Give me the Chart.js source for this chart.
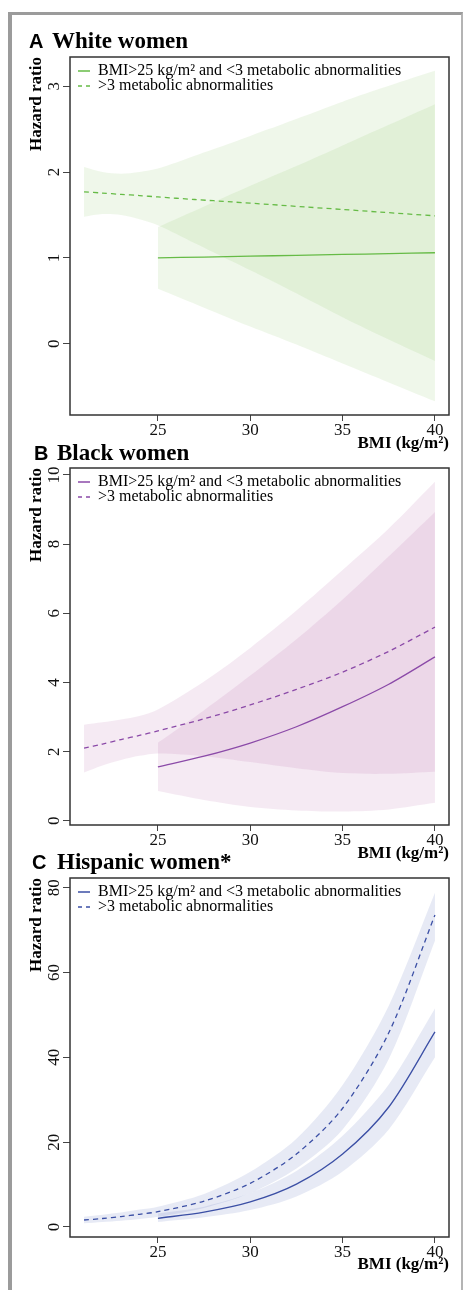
<!DOCTYPE html>
<html><head><meta charset="utf-8">
<script src="https://cdn.jsdelivr.net/npm/chart.js@4.4.1/dist/chart.umd.min.js"></script>
<style>
html,body{margin:0;padding:0;background:#fff;}
body{width:467px;height:1290px;position:relative;overflow:hidden;}
#frame{position:absolute;left:8px;top:12px;width:449px;height:1300px;border-top:3px solid #9b9b9b;border-left:4px solid #9b9b9b;border-right:2px solid #b4b4b4;}
.lt{position:absolute;font:bold 20px "Liberation Sans",Arial,sans-serif;line-height:20px;color:#000;white-space:nowrap;}
.hd{position:absolute;font:bold 23px "Liberation Serif","Times New Roman",serif;line-height:23px;color:#000;white-space:nowrap;}
canvas{position:absolute;left:0;}
</style></head>
<body>
<div id="frame"></div>
<canvas id="cA" width="467" height="405" style="top:50px"></canvas>
<canvas id="cB" width="467" height="405" style="top:460px"></canvas>
<canvas id="cC" width="467" height="406" style="top:870px"></canvas>
<div class="lt" style="left:29px;top:31px">A</div><div class="hd" style="left:52px;top:28.7px">White women</div>
<div class="lt" style="left:34px;top:443px">B</div><div class="hd" style="left:57px;top:440.7px">Black women</div>
<div class="lt" style="left:32px;top:852px">C</div><div class="hd" style="left:57px;top:849.7px">Hispanic women*</div>
<script>
// ---- shared labels / ticks ----
const legendLabels = ['BMI>25 kg/m\u00b2 and <3 metabolic abnormalities', '>3 metabolic abnormalities'];
const xTitle = 'BMI (kg/m\u00b2)';
const yTitle = 'Hazard ratio';
const bmiTicks = [25, 30, 35, 40];
const yTicksA = [0, 1, 2, 3];
const yTicksB = [0, 2, 4, 6, 8, 10];
const yTicksC = [0, 20, 40, 60, 80];

// BMI grid for the "<3 abnormalities" curves (start at 25)
const bmiSolid = [25, 27.5, 30, 32.5, 35, 37.5, 40];

// ---- A: White women ----
const bmiDashedA = [21, 22, 23, 24, 25, 27, 29, 31, 33, 35, 37, 40];
const hrSolidA   = [1.00, 1.01, 1.02, 1.03, 1.04, 1.05, 1.06];
const hiSolidA   = [1.36, 1.60, 1.84, 2.07, 2.31, 2.55, 2.79];
const loSolidA   = [0.64, 0.42, 0.20, -0.01, -0.23, -0.45, -0.67];
const hrDashedA  = [1.77, 1.755, 1.74, 1.726, 1.71, 1.68, 1.652, 1.623, 1.593, 1.564, 1.534, 1.49];
const hiDashedA  = [2.06, 2.00, 1.98, 2.00, 2.04, 2.19, 2.34, 2.50, 2.66, 2.82, 2.97, 3.18];
const loDashedA  = [1.48, 1.51, 1.50, 1.45, 1.38, 1.17, 0.96, 0.75, 0.53, 0.31, 0.10, -0.20];

// ---- B: Black women ----
const bmiDashedB = [21, 22, 23, 24, 25, 27.5, 30, 32.5, 35, 37.5, 40];
const hrSolidB   = [1.56, 1.87, 2.25, 2.72, 3.30, 3.95, 4.74];
const hiSolidB   = [2.26, 3.20, 4.20, 5.25, 6.40, 7.65, 8.93];
const loSolidB   = [0.86, 0.60, 0.40, 0.30, 0.27, 0.33, 0.52];
const hrDashedB  = [2.10, 2.22, 2.35, 2.47, 2.60, 2.95, 3.35, 3.80, 4.30, 4.90, 5.60];
const hiDashedB  = [2.78, 2.85, 2.93, 3.03, 3.22, 4.03, 5.00, 6.08, 7.25, 8.45, 9.80];
const loDashedB  = [1.40, 1.60, 1.76, 1.88, 1.95, 1.87, 1.70, 1.52, 1.38, 1.36, 1.42];

// ---- C: Hispanic women ----
const bmiDashedC = [21, 22, 23, 24, 25, 27.5, 30, 32.5, 35, 37.5, 40];
const hrSolidC   = [2.05, 3.5, 5.9, 10.1, 17.2, 28.3, 46.0];
const hiSolidC   = [3.2, 4.8, 8.0, 13.2, 21.5, 33.6, 51.5];
const loSolidC   = [1.2, 2.3, 4.0, 7.2, 13.1, 23.0, 40.0];
const hrDashedC  = [1.65, 2.0, 2.45, 3.0, 3.6, 6.1, 10.3, 17.2, 28.0, 45.8, 73.6];
const hiDashedC  = [2.4, 2.9, 3.4, 4.1, 4.8, 7.8, 13.0, 20.8, 33.5, 52.2, 78.8];
const loDashedC  = [0.9, 1.2, 1.5, 1.9, 2.4, 4.5, 8.0, 13.8, 23.0, 39.6, 67.5];

Chart.defaults.font.family = '"Liberation Serif","Times New Roman",serif';
Chart.defaults.color = '#000';

function pts(xs, ys) { return xs.map((x, i) => ({x: x, y: ys[i]})); }

const framePlugin = {
  id: 'frame',
  afterDraw(chart) {
    const ctx = chart.ctx, a = chart.chartArea;
    ctx.save();
    ctx.strokeStyle = '#333';
    ctx.lineWidth = 1.5;
    ctx.strokeRect(a.left, a.top, a.right - a.left, a.bottom - a.top);
    ctx.restore();
  }
};
const legendPlace = {
  id: 'legendPlace',
  beforeDraw(chart) {
    const lg = chart.legend, a = chart.chartArea;
    if (lg) {
      const w = lg.width, h = lg.height;
      lg.left = a.left + 8; lg.top = a.top + 7;
      lg.right = lg.left + w; lg.bottom = lg.top + h;
    }
  }
};

function legendItems(chart) {
  return Chart.defaults.plugins.legend.labels.generateLabels(chart).map((it) => {
    const ds = chart.data.datasets[it.datasetIndex];
    it.lineDash = ds.borderDash || [];
    it.strokeStyle = ds.borderColor;
    it.lineWidth = ds.borderWidth;
    return it;
  });
}

function panel(id, p) {
  const clear = 'rgba(0,0,0,0)';
  const datasets = [
    {label: legendLabels[0], data: pts(bmiSolid, p.hrS), borderColor: p.line, backgroundColor: p.line, borderWidth: 1.3, fill: false},
    {label: legendLabels[1], data: pts(p.xD, p.hrD), borderColor: p.line, backgroundColor: p.line, borderWidth: 1.3, borderDash: [5, 4], fill: false},
    {label: '', data: pts(bmiSolid, p.hiS), borderColor: clear, backgroundColor: p.band, borderWidth: 1, fill: '+1'},
    {label: '', data: pts(bmiSolid, p.loS), borderColor: clear, backgroundColor: clear, borderWidth: 1, fill: false},
    {label: '', data: pts(p.xD, p.hiD), borderColor: clear, backgroundColor: p.band, borderWidth: 1, fill: '+1'},
    {label: '', data: pts(p.xD, p.loD), borderColor: clear, backgroundColor: clear, borderWidth: 1, fill: false}
  ];
  const tickGrid = (len) => ({drawOnChartArea: false, drawTicks: true, tickLength: len, color: '#444', lineWidth: 1});
  return new Chart(document.getElementById(id), {
    type: 'line',
    data: {datasets: datasets},
    plugins: [framePlugin, legendPlace],
    options: {
      responsive: false,
      animation: false,
      events: [],
      devicePixelRatio: 1,
      layout: {padding: {top: p.padTop, left: 14, right: 18, bottom: 0}},
      elements: {point: {radius: 0}, line: {tension: 0.3}},
      plugins: {
        tooltip: {enabled: false},
        legend: {
          display: true, position: 'chartArea', align: 'start',
          labels: {
            filter: (item) => item.text !== '',
            generateLabels: legendItems,
            usePointStyle: true, pointStyle: 'line', pointStyleWidth: 13,
            padding: -1, color: '#000',
            font: {size: 16, lineHeight: 1}
          }
        }
      },
      scales: {
        x: {
          type: 'linear', min: 20.24, max: 40.76,
          afterBuildTicks: (s) => { s.ticks = bmiTicks.map(v => ({value: v})); },
          afterFit: (s) => { s.height = p.xh; s.paddingLeft = 0; s.paddingRight = 0; },
          grid: tickGrid(6), border: {display: false},
          ticks: {font: {size: 17}, color: '#111', padding: -1, minRotation: 0, maxRotation: 0, autoSkip: false},
          title: {display: true, text: xTitle, align: 'end', color: '#000',
                  font: {size: 17, weight: 'bold', lineHeight: 1}, padding: {top: 0, bottom: 2.5}}
        },
        y: {
          type: 'linear', min: p.ymin, max: p.ymax,
          afterBuildTicks: (s) => { s.ticks = p.yt.map(v => ({value: v})); },
          afterFit: (s) => { s.width = 56; s.paddingTop = 0; s.paddingBottom = 0; },
          grid: tickGrid(7), border: {display: false},
          ticks: {font: {size: 17}, color: '#111', padding: p.ypad, minRotation: 90, maxRotation: 90, crossAlign: 'center', autoSkip: false},
          title: {display: true, text: yTitle, align: 'end', color: '#000',
                  font: {size: 17, weight: 'bold', lineHeight: 1}, padding: {top: 14.5, bottom: 0}}
        }
      }
    }
  });
}

panel('cA', {xD: bmiDashedA, hrS: hrSolidA, hiS: hiSolidA, loS: loSolidA, hrD: hrDashedA, hiD: hiDashedA, loD: loDashedA,
  line: '#66bb46', band: 'rgba(120,190,80,0.12)', ymin: -0.83, ymax: 3.34, yt: yTicksA, ypad: 4, padTop: 7, xh: 40});
panel('cB', {xD: bmiDashedB, hrS: hrSolidB, hiS: hiSolidB, loS: loSolidB, hrD: hrDashedB, hiD: hiDashedB, loD: loDashedB,
  line: '#8b4aa8', band: 'rgba(170,80,160,0.12)', ymin: -0.12, ymax: 10.2, yt: yTicksB, ypad: 0, padTop: 8, xh: 40});
panel('cC', {xD: bmiDashedC, hrS: hrSolidC, hiS: hiSolidC, loS: loSolidC, hrD: hrDashedC, hiD: hiDashedC, loD: loDashedC,
  line: '#3b4fa5', band: 'rgba(60,80,170,0.12)', ymin: -2.36, ymax: 82.3, yt: yTicksC, ypad: 0, padTop: 8, xh: 39});
</script>
</body></html>
